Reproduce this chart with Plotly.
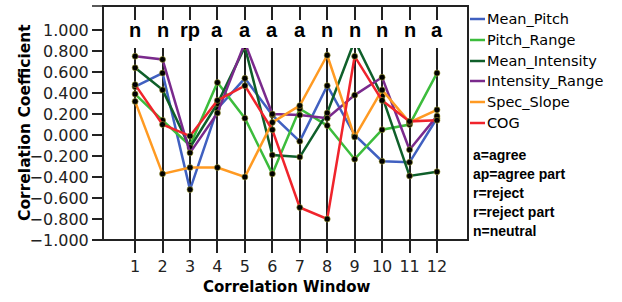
import plotly.graph_objects as go

windows = [1, 2, 3, 4, 5, 6, 7, 8, 9, 10, 11, 12]
verdicts = ["n", "n", "rp", "a", "a", "a", "a", "n", "n", "n", "n", "a"]

mean_pitch = [0.46, 0.59, -0.52, 0.25, 0.54, 0.19, -0.06, 0.47, 0.00, -0.25, -0.26, 0.16]
pitch_range = [0.39, 0.14, -0.10, 0.50, 0.16, -0.37, 0.25, 0.09, -0.23, 0.05, 0.10, 0.59]
mean_intensity = [0.64, 0.43, -0.12, 0.30, 0.84, -0.19, -0.21, 0.21, 0.90, 0.37, -0.39, -0.35]
intensity_range = [0.75, 0.72, -0.17, 0.21, 0.88, 0.20, 0.19, 0.16, 0.38, 0.55, -0.14, 0.18]
spec_slope = [0.32, -0.37, -0.31, -0.31, -0.40, 0.12, 0.28, 0.76, -0.02, 0.43, 0.12, 0.24]
cog = [0.48, 0.10, -0.01, 0.33, 0.47, 0.05, -0.69, -0.80, 0.75, 0.33, 0.13, 0.14]

series_names = ["Mean_Pitch", "Pitch_Range", "Mean_Intensity", "Intensity_Range", "Spec_Slope", "COG"]
series_values = [mean_pitch, pitch_range, mean_intensity, intensity_range, spec_slope, cog]
series_colors = ["#4060c0", "#3cbc3c", "#0f5f2a", "#7a2a8c", "#ff9a22", "#f0242c"]

key_lines = ["a=agree", "ap=agree part", "r=reject", "r=reject part", "n=neutral"]

W, H = 622, 302
ML, MR, MT, MB = 103, 154, 6, 62
PW = W - ML - MR
PH = H - MT - MB

def px_x(p):
    return (p - ML) / PW

def px_y(p):
    return (H - MB - p) / PH

fig = go.Figure()
for name, vals, col in zip(series_names, series_values, series_colors):
    fig.add_trace(go.Scatter(
        x=windows, y=vals, mode="lines+markers", name=name,
        line=dict(color=col, width=2.5),
        marker=dict(color="black", size=6, line=dict(color="#a09a30", width=0.6)),
        showlegend=False, cliponaxis=True,
    ))

shapes = []
# white band behind verdict letters (hides lines under it)
shapes.append(dict(type="rect", xref="x", yref="y", x0=-0.17, x1=13.13, y0=0.829, y1=1.095,
                   fillcolor="white", line=dict(width=0), layer="above"))
# frame
shapes.append(dict(type="rect", xref="paper", yref="paper", x0=0, x1=1, y0=0, y1=1,
                   line=dict(color="#222", width=2), layer="above"))
# top-left tick
shapes.append(dict(type="line", xref="paper", yref="paper", x0=px_x(92), x1=0, y0=1, y1=1,
                   line=dict(color="#222", width=1.5)))

annotations = []
for xv, v in zip(windows, verdicts):
    annotations.append(dict(x=xv, y=1.0, xref="x", yref="y", text="<b>%s</b>" % v, showarrow=False,
                            font=dict(family="Liberation Sans", size=20, color="black"),
                            xanchor="center", yanchor="middle"))
# legend (manual)
leg_y = [19, 40, 61, 81, 102, 123]
for name, col, yy in zip(series_names, series_colors, leg_y):
    shapes.append(dict(type="line", xref="paper", yref="paper", x0=px_x(470), x1=px_x(485),
                       y0=px_y(yy), y1=px_y(yy), line=dict(color=col, width=2.5)))
    annotations.append(dict(x=px_x(485), y=px_y(yy), xref="paper", yref="paper", text=name,
                            showarrow=False, xanchor="left", yanchor="middle",
                            font=dict(family="DejaVu Sans", size=14.5, color="black")))
key_y = [155, 174, 193, 212, 231]
for t, yy in zip(key_lines, key_y):
    annotations.append(dict(x=px_x(471), y=px_y(yy), xref="paper", yref="paper", text="<b>%s</b>" % t,
                            showarrow=False, xanchor="left", yanchor="middle",
                            font=dict(family="Liberation Sans", size=14, color="black")))
annotations.append(dict(x=px_x(25), y=0.5, xref="paper", yref="paper",
                        text="<b>Correlation Coefficient</b>", textangle=-90, showarrow=False,
                        xanchor="center", yanchor="middle",
                        font=dict(family="DejaVu Sans", size=15.5, color="black")))
annotations.append(dict(x=px_x(286), y=px_y(287), xref="paper", yref="paper",
                        text="<b>Correlation Window</b>", showarrow=False,
                        xanchor="center", yanchor="middle",
                        font=dict(family="DejaVu Sans", size=15, color="black")))

fig.update_layout(
    width=W, height=H, margin=dict(l=ML, r=MR, t=MT, b=MB, autoexpand=False),
    paper_bgcolor="white", plot_bgcolor="white",
    shapes=shapes, annotations=annotations, showlegend=False,
    xaxis=dict(range=[-0.17, 13.13], tickvals=windows, ticktext=[str(w) for w in windows],
               showgrid=True, gridcolor="#222", gridwidth=1.5, zeroline=False, automargin=False,
               ticks="outside", ticklen=12, tickwidth=1.5, tickcolor="#222",
               showline=False, tickfont=dict(family="DejaVu Sans", size=16, color="#222")),
    yaxis=dict(range=[-1.0, 1.229], tickvals=[1.0, 0.8, 0.6, 0.4, 0.2, 0.0, -0.2, -0.4, -0.6, -0.8, -1.0],
               tickformat=".3f", showgrid=False, zeroline=False, automargin=False,
               ticks="outside", ticklen=10, tickwidth=1.5, tickcolor="#222",
               showline=False, tickfont=dict(family="DejaVu Sans", size=16, color="#222")),
)

fig.write_html("out.html", config={"displayModeBar": False},
               post_script="document.body.style.margin='0';document.body.style.padding='0';")
